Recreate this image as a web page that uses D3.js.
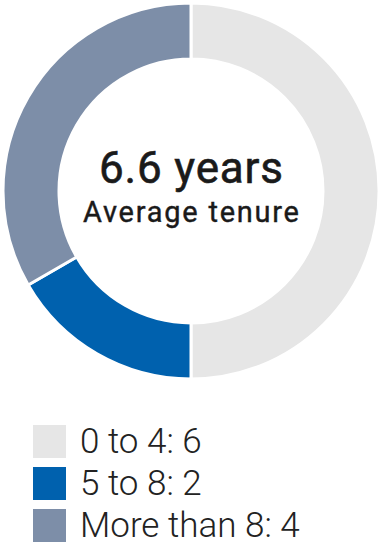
<!DOCTYPE html>
<html>
<head>
<meta charset="utf-8">
<script src="https://cdn.jsdelivr.net/npm/d3@7/dist/d3.min.js"></script>
<style>
  body { margin: 0; background: #fff; }
  svg { display: block; font-family: Roboto, "Noto Sans", sans-serif; }
</style>
</head>
<body>
<div id="chart"></div>
<script>
// tenure buckets (years) and number of people in each
var categories = ["0 to 4", "5 to 8", "More than 8"];
var values = [6, 2, 4];
var colors = ["#e6e6e6", "#0061ae", "#7d8ea8"];

var headline = "6.6 years";
var subline = "Average tenure";

var width = 386,
    height = 546;

var dims = {
  cx: 191,
  cy: 191,
  outer: 188,
  inner: 132,
  legendX: 33,
  legendY: 425,
  legendStep: 42,
  swatch: 33
};

var svg = d3.select("#chart")
  .append("svg")
  .attr("width", width)
  .attr("height", height);

var pie = d3.pie()
  .sort(null)
  .value(function(d) { return d; });

var arc = d3.arc()
  .innerRadius(dims.inner)
  .outerRadius(dims.outer);

var donut = svg.append("g")
  .attr("transform", "translate(" + dims.cx + "," + dims.cy + ")");

donut.selectAll("path")
  .data(pie(values))
  .enter()
  .append("path")
    .attr("d", arc)
    .attr("fill", function(d, i) { return colors[i]; })
    .attr("stroke", "#fff")
    .attr("stroke-width", 3)
    .attr("stroke-linejoin", "miter");

// centre label, stretched to the width of the original lettering
donut.append("text")
  .attr("x", 0)
  .attr("y", -8)
  .attr("text-anchor", "middle")
  .attr("font-size", 44)
  .attr("font-weight", 400)
  .attr("stroke", "#1a1a1a")
  .attr("stroke-width", 0.6)
  .attr("textLength", 184)
  .attr("lengthAdjust", "spacing")
  .attr("fill", "#1a1a1a")
  .text(headline);

donut.append("text")
  .attr("x", 0)
  .attr("y", 31)
  .attr("text-anchor", "middle")
  .attr("font-size", 29)
  .attr("font-weight", 400)
  .attr("stroke", "#1a1a1a")
  .attr("stroke-width", 0.4)
  .attr("textLength", 216)
  .attr("lengthAdjust", "spacing")
  .attr("fill", "#1a1a1a")
  .text(subline);

// legend
var legend = svg.append("g")
  .attr("transform", "translate(" + dims.legendX + "," + dims.legendY + ")");

var rows = legend.selectAll("g.row")
  .data(categories)
  .enter()
  .append("g")
    .attr("class", "row")
    .attr("transform", function(d, i) { return "translate(0," + (i * dims.legendStep) + ")"; });

rows.append("rect")
  .attr("width", dims.swatch)
  .attr("height", dims.swatch)
  .attr("fill", function(d, i) { return colors[i]; });

rows.append("text")
  .attr("x", 47)
  .attr("y", 28)
  .attr("font-size", 35)
  .attr("font-weight", 300)
  .attr("fill", "#222")
  .text(function(d, i) { return d + ": " + values[i]; });
</script>
</body>
</html>
